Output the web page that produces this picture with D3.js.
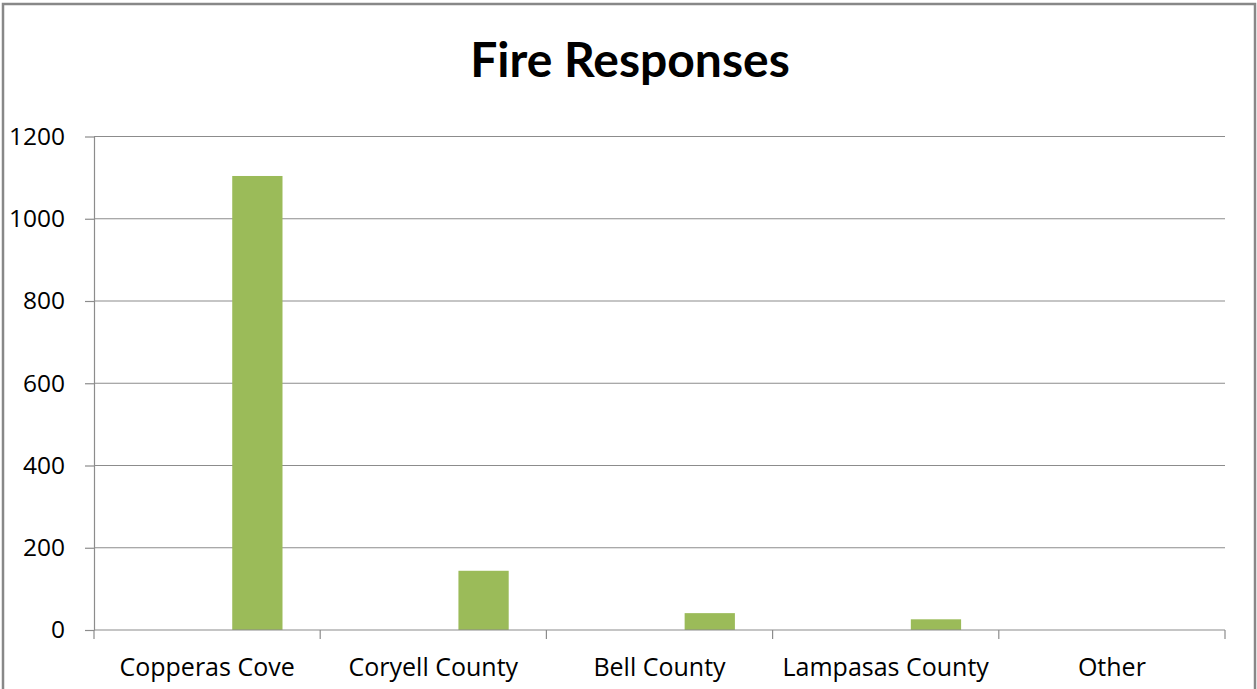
<!DOCTYPE html>
<html lang="en">
<head>
    <meta charset="UTF-8">
    <script src="https://d3js.org/d3.v7.min.js"></script>
    <style>
        body { margin: 0; background: white; }
        text { font-family: "Open Sans", Lato, sans-serif; fill: #000; }
    </style>
</head>
<body>
    <svg id="chart" width="1257" height="689"></svg>
    <script>
        const categories = ["Copperas Cove", "Coryell County", "Bell County", "Lampasas County", "Other"];
        const responses = [1104, 144, 41, 26, 0];
        const yTicks = [0, 200, 400, 600, 800, 1000, 1200];
        // chart was a 3-series cluster; only the third slot holds data
        const slots = ["s1", "s2", "s3"];

        const width = 1257, height = 689;
        const margin = { top: 136.5, right: 32, bottom: 59, left: 94 };

        const svg = d3.select("#chart");

        // outer frame
        svg.append("rect")
            .attr("x", 3).attr("y", 4)
            .attr("width", 1252).attr("height", 700)
            .attr("fill", "none")
            .attr("stroke", "#888")
            .attr("stroke-width", 2.5);

        svg.append("text")
            .attr("x", 630)
            .attr("y", 77)
            .attr("text-anchor", "middle")
            .style("font-family", "Lato, sans-serif")
            .style("font-size", "48px")
            .style("font-weight", "bold")
            .text("Fire Responses");

        const x = d3.scaleBand()
            .domain(categories)
            .range([margin.left, width - margin.right]);

        const x1 = d3.scaleBand()
            .domain(slots)
            .range([0, x.bandwidth()])
            .paddingInner(0)
            .paddingOuter(0.75);

        const y = d3.scaleLinear()
            .domain([0, 1200])
            .range([height - margin.bottom, margin.top]);

        // gridlines
        svg.append("g")
            .selectAll("line")
            .data(yTicks.filter(d => d > 0))
            .enter().append("line")
            .attr("x1", margin.left)
            .attr("x2", width - margin.right)
            .attr("y1", d => y(d))
            .attr("y2", d => y(d))
            .attr("stroke", "#8c8c8c")
            .attr("stroke-width", 1.2);

        const yAxis = svg.append("g")
            .attr("transform", `translate(${margin.left},0)`)
            .call(d3.axisLeft(y).tickValues(yTicks).tickFormat(d3.format("d"))
                .tickSize(9).tickPadding(20).tickSizeOuter(0));
        yAxis.select(".domain").attr("stroke", "#8c8c8c").attr("stroke-width", 1.2);
        yAxis.selectAll(".tick line").attr("stroke", "#8c8c8c").attr("stroke-width", 1.2);
        yAxis.selectAll("text").style("font-size", "24.5px").attr("fill", "#000");

        svg.selectAll(".bar")
            .data(responses)
            .enter().append("rect")
            .attr("class", "bar")
            .attr("x", (d, i) => x(categories[i]) + x1("s3"))
            .attr("y", d => y(d))
            .attr("width", x1.bandwidth())
            .attr("height", d => y(0) - y(d))
            .attr("fill", "#9bbb59");

        // x axis with ticks at category boundaries
        const xAxis = svg.append("g")
            .attr("transform", `translate(0,${y(0)})`);
        xAxis.append("line")
            .attr("x1", margin.left).attr("x2", width - margin.right)
            .attr("stroke", "#8c8c8c").attr("stroke-width", 1.2);
        const bounds = categories.map(c => x(c)).concat([x.range()[1]]);
        xAxis.selectAll(".bt")
            .data(bounds)
            .enter().append("line")
            .attr("x1", d => d).attr("x2", d => d)
            .attr("y1", 0).attr("y2", 9)
            .attr("stroke", "#8c8c8c").attr("stroke-width", 1.2);
        xAxis.selectAll(".lbl")
            .data(categories)
            .enter().append("text")
            .attr("x", d => x(d) + x.bandwidth() / 2)
            .attr("y", 46)
            .attr("text-anchor", "middle")
            .style("font-size", "25px")
            .text(d => d);
    </script>
</body>
</html>
